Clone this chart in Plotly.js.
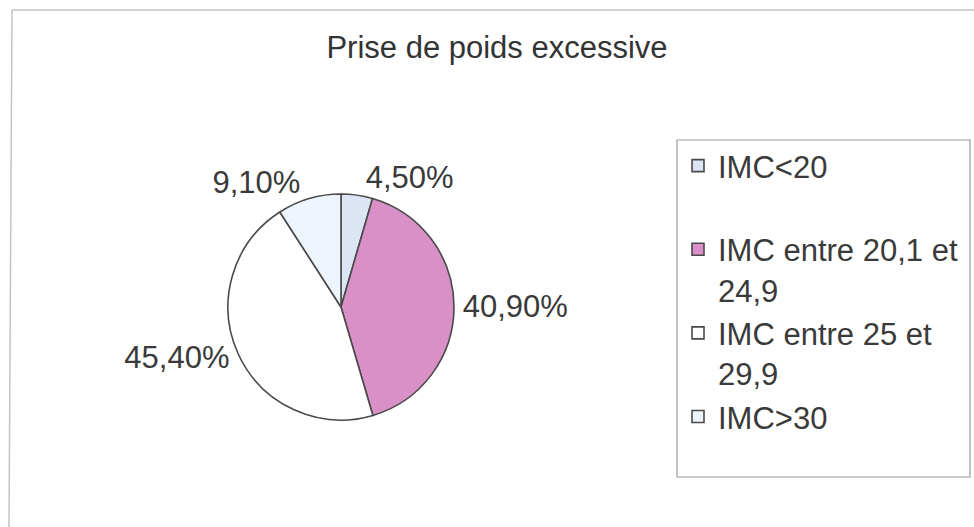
<!DOCTYPE html>
<html>
<head>
<meta charset="utf-8">
<script src="https://cdn.plot.ly/plotly-3.0.1.min.js"></script>
<style>html,body{margin:0;padding:0;background:#fff}#chart{width:974px;height:527px}</style>
</head>
<body>
<div id="chart"></div>
<script>
var chartTitle = "Prise de poids excessive";
var categories = ["IMC<20<br> ", "IMC entre 20,1 et<br>24,9", "IMC entre 25 et<br>29,9", "IMC>30"];
var values = [4.5, 40.9, 45.4, 9.1];
var sliceColors = ["#dbe5f3", "#d890c6", "#ffffff", "#eef4fb"];

var W = 974, H = 527;
function px(x){ return x / W; }
function py(y){ return 1 - y / H; }

var FONT = "Liberation Sans, Arial, sans-serif";

var trace = {
  type: "pie",
  labels: categories,
  values: values,
  sort: false,
  direction: "clockwise",
  rotation: 0,
  marker: { colors: sliceColors, line: { color: "#4a4a4a", width: 1.6 } },
  textposition: "outside",
  texttemplate: "%{value:.2f}%",
  textfont: { family: FONT, size: 31, color: "#3a3a3a" },
  outsidetextfont: { family: FONT, size: 31, color: "#3a3a3a" },
  hoverinfo: "label+percent",
  domain: { x: [px(228), px(454)], y: [py(420), py(194)] }
};

var layout = {
  width: W, height: H,
  margin: { l: 0, r: 0, t: 0, b: 0 },
  paper_bgcolor: "#ffffff",
  separators: ", ",
  title: {
    text: chartTitle,
    font: { family: FONT, size: 31, color: "#333333" },
    x: px(497), xanchor: "center", y: py(47), yanchor: "middle"
  },
  showlegend: true,
  legend: {
    x: px(678), xanchor: "left",
    y: py(139), yanchor: "top",
    valign: "top",
    bgcolor: "rgba(0,0,0,0)",
    borderwidth: 0,
    font: { family: FONT, size: 31, color: "#3a3a3a" }
  },
  shapes: [
    { type: "rect", xref: "paper", yref: "paper", x0: px(677), x1: px(970), y0: py(477), y1: py(140),
      line: { color: "#9a9a9a", width: 1.2 }, fillcolor: "rgba(0,0,0,0)" },
    { type: "line", xref: "paper", yref: "paper", x0: px(12), x1: 1, y0: py(10), y1: py(10),
      line: { color: "#c4c4c4", width: 1.5 } },
    { type: "line", xref: "paper", yref: "paper", x0: px(12), x1: px(9), y0: py(10), y1: 0,
      line: { color: "#c4c4c4", width: 1.5 } }
  ]
};

Plotly.newPlot("chart", [trace], layout, { displayModeBar: false, staticPlot: true });
</script>
</body>
</html>
